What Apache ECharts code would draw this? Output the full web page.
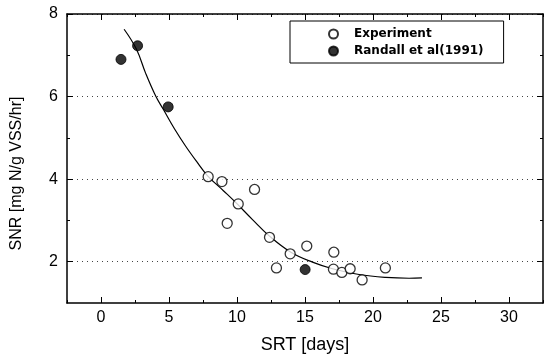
<!DOCTYPE html>
<html>
<head>
<meta charset="utf-8">
<script src="https://cdn.jsdelivr.net/npm/echarts@6/dist/echarts.min.js"></script>
<style>html,body{margin:0;padding:0;background:#fff;}#c{width:545px;height:357px;}</style>
</head>
<body>
<div id="c"></div>
<script>
// Data
const expX = [7.88, 8.89, 9.28, 10.09, 11.29, 12.39, 12.90, 13.91, 15.13, 17.12, 17.09, 17.71, 18.32, 19.20, 20.91];
const expY = [4.06, 3.94, 2.93, 3.40, 3.75, 2.59, 1.85, 2.19, 2.38, 2.23, 1.82, 1.74, 1.83, 1.56, 1.85];
const randX = [1.47, 2.69, 4.94, 15.01];
const randY = [6.90, 7.23, 5.75, 1.81];
const curveX = [1.7, 2.6, 3.3, 4.04, 4.6, 5.4, 6.24, 7.0, 7.84, 9.0, 9.92, 11.14, 12.39, 13.96, 15.55, 17.02, 18.98, 20.94, 22.65, 23.6];
const curveY = [7.63, 7.15, 6.55, 6.0, 5.68, 5.22, 4.79, 4.44, 4.08, 3.72, 3.43, 3.02, 2.62, 2.23, 1.99, 1.83, 1.69, 1.62, 1.60, 1.61];
const xMajor = [0, 5, 10, 15, 20, 25, 30];
const xMinor = [-2.5, 2.5, 7.5, 12.5, 17.5, 22.5, 27.5, 32.5];
const yMajor = [2, 4, 6, 8];
const yMinor = [3, 5, 7];
const seriesNames = ['Experiment', 'Randall et al(1991)'];
const xTitle = 'SRT [days]';
const yTitle = 'SNR [mg N/g VSS/hr]';

const FONT = '"Liberation Sans", Arial, Helvetica, sans-serif';
const zip = (a, b) => a.map((v, i) => [v, b[i]]);

function xAx(pos, ticks, len, labels, line) {
  return {
    type: 'value', position: pos, min: -2.5, max: 32.5, gridIndex: 0,
    axisLine: { show: line, onZero: false, lineStyle: { color: '#000', width: 1.5 } },
    axisTick: { show: true, inside: true, length: len, customValues: ticks, lineStyle: { color: '#000', width: 1 } },
    axisLabel: labels ? { show: true, customValues: xMajor, margin: 7, color: '#000', fontSize: 16, fontFamily: FONT } : { show: false },
    splitLine: { show: false },
    name: labels ? xTitle : '', nameLocation: 'middle', nameGap: 33,
    nameTextStyle: { color: '#000', fontSize: 18, fontFamily: FONT, verticalAlign: 'top' }
  };
}
function yAx(pos, ticks, len, labels, line, split) {
  return {
    type: 'value', position: pos, min: 1, max: 8, gridIndex: 0,
    axisLine: { show: line, onZero: false, lineStyle: { color: '#000', width: 1.5 } },
    axisTick: { show: true, inside: true, length: len, customValues: ticks, lineStyle: { color: '#000', width: 1 } },
    axisLabel: labels ? { show: true, customValues: yMajor, margin: 9, color: '#000', fontSize: 16, fontFamily: FONT } : { show: false },
    splitLine: split ? { show: true, lineStyle: { color: '#444', type: [1, 4], width: 1 } } : { show: false },
    name: labels ? yTitle : '', nameLocation: 'middle', nameGap: 42,
    nameTextStyle: { color: '#000', fontSize: 16, fontFamily: FONT, padding: [0, 30, 0, 0] }
  };
}

const chart = echarts.init(document.getElementById('c'), null, { renderer: 'canvas' });
chart.setOption({
  animation: false,
  backgroundColor: '#fff',
  grid: { left: 67, top: 14, width: 476, height: 289, containLabel: false, outerBoundsMode: 'none' },
  xAxis: [
    xAx('bottom', xMajor, 6, true, true),
    xAx('bottom', xMinor, 3, false, false),
    xAx('top', xMajor, 6, false, true),
    xAx('top', xMinor, 3, false, false)
  ],
  yAxis: [
    yAx('left', yMajor, 6, true, true, true),
    yAx('left', yMinor, 3, false, false, false),
    yAx('right', yMajor, 6, false, true, false),
    yAx('right', yMinor, 3, false, false, false)
  ],
  legend: {
    data: seriesNames, orient: 'vertical', left: 290, top: 21,
    backgroundColor: '#fff', borderColor: '#000', borderWidth: 1, borderRadius: 0,
    padding: [7, 20, 6, 38], itemGap: 5, itemWidth: 9, itemHeight: 9,
    textStyle: { color: '#000', fontSize: 12, fontWeight: 'bold', fontFamily: '"DejaVu Sans", sans-serif', padding: [0, 0, 0, 11] }
  },
  series: [
    {
      name: 'fit', type: 'line', data: zip(curveX, curveY), smooth: 0.4, showSymbol: false, symbol: 'none',
      lineStyle: { color: '#000', width: 1.2 }, z: 2, silent: true
    },
    {
      name: seriesNames[0], type: 'scatter', data: zip(expX, expY), symbol: 'circle', symbolSize: 10,
      itemStyle: { color: '#fff', borderColor: '#000', borderWidth: 1.3 }, z: 3
    },
    {
      name: seriesNames[1], type: 'scatter', data: zip(randX, randY), symbol: 'circle', symbolSize: 10,
      itemStyle: { color: '#000', borderColor: '#000', borderWidth: 1 }, z: 3
    }
  ]
});
</script>
</body>
</html>
